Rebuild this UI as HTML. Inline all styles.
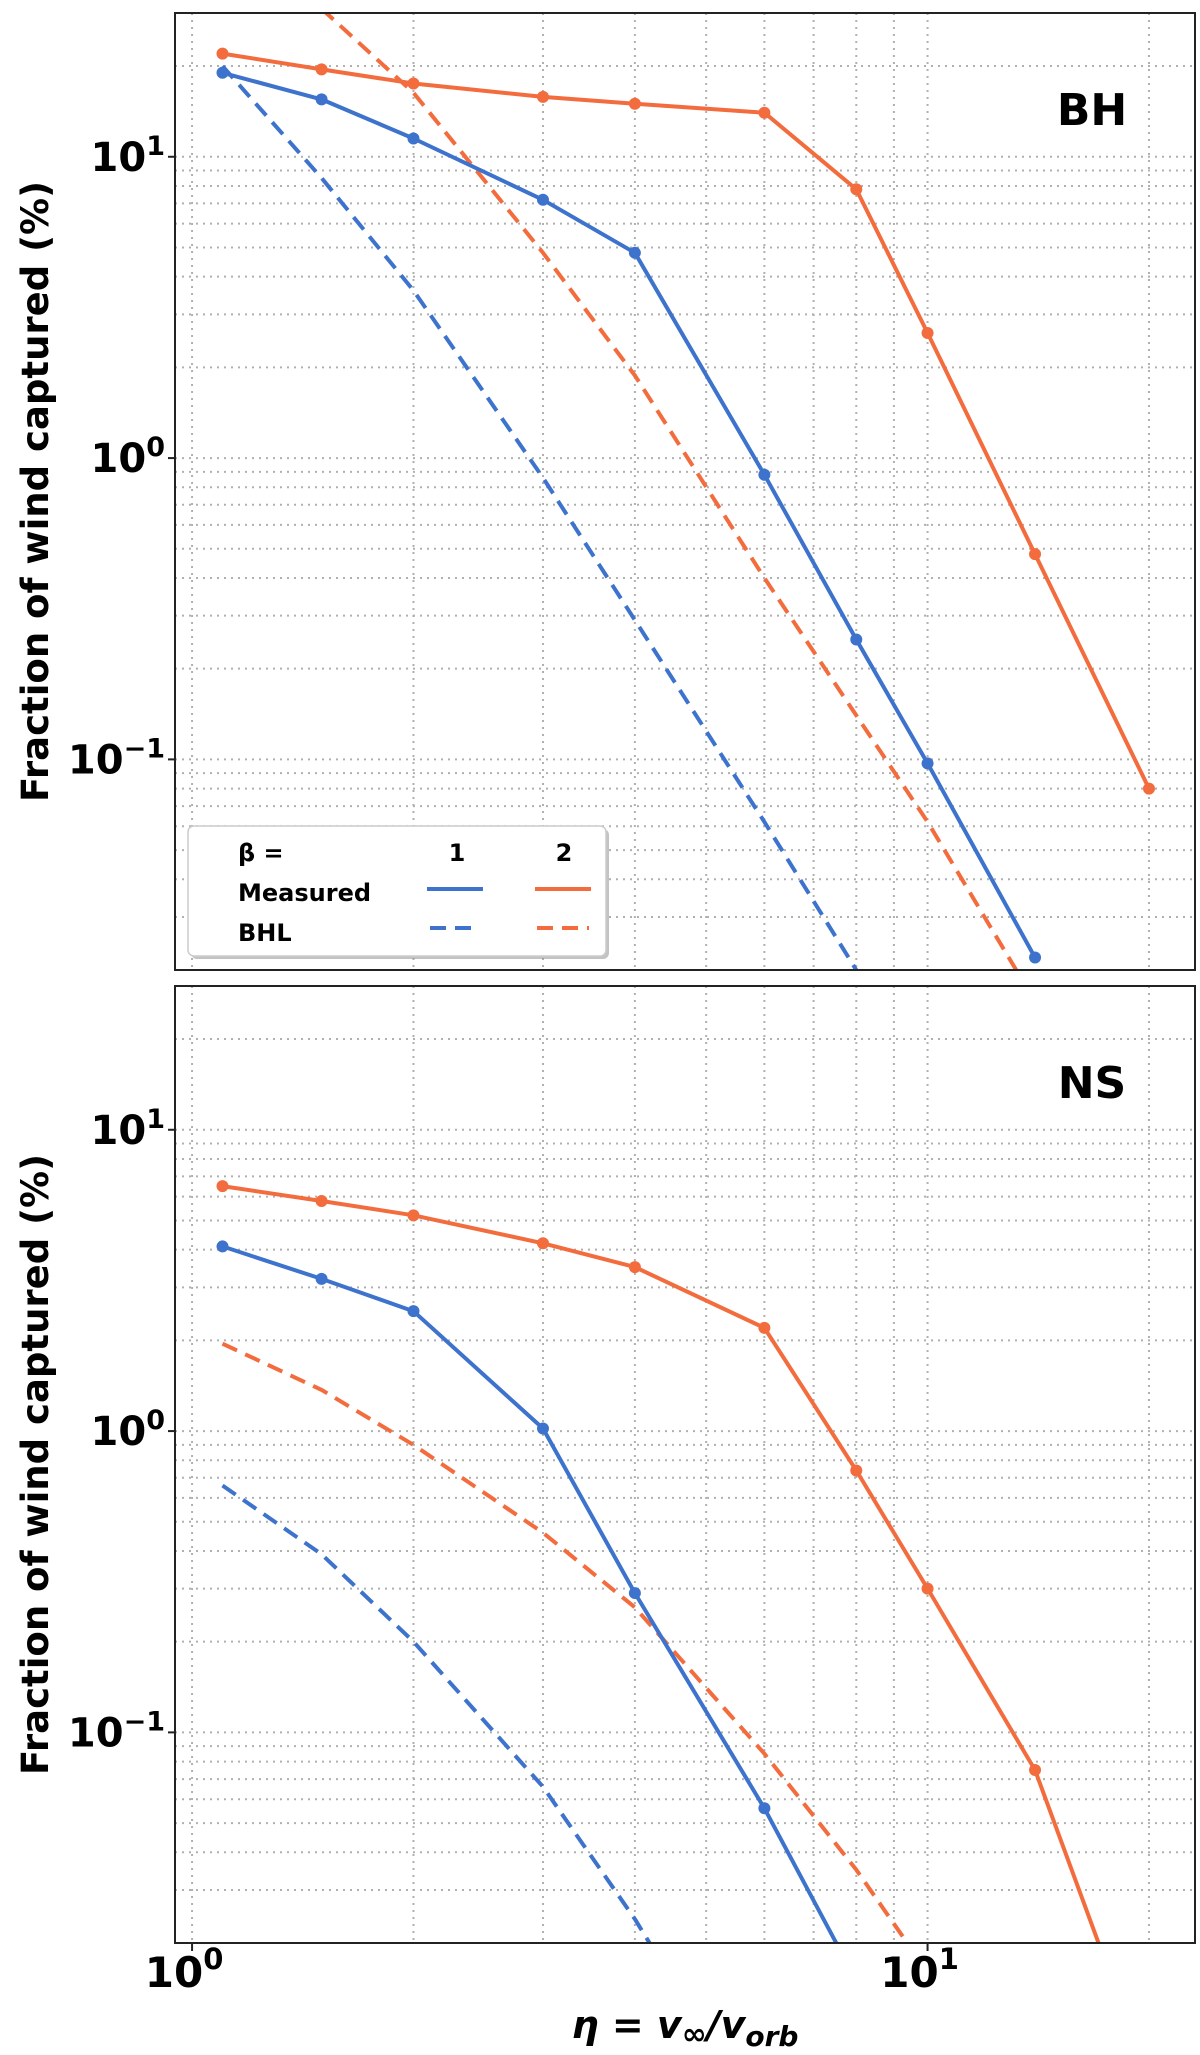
<!DOCTYPE html>
<html><head><meta charset="utf-8">
<style>
html,body{margin:0;padding:0;background:#fff;}
svg{display:block;font-family:"DejaVu Sans","Liberation Sans",sans-serif;}
</style></head>
<body>
<svg id="fig" width="1200" height="2055" viewBox="0 0 1200 2055" xmlns="http://www.w3.org/2000/svg"></svg>
<script>
const etaBH = [1.1,1.5,2,3,4,6,8,10,14,20];
const bhMeas1 = [19,15.5,11.5,7.2,4.8,0.88,0.25,0.097,0.022];
const bhMeas2 = [22,19.5,17.5,15.8,15,14,7.8,2.6,0.48,0.08];
const bhBhlEta1 = [1.1,1.5,2,3,4,6,8];
const bhBhl1 = [20,8.5,3.6,0.86,0.29,0.062,0.02];
const bhBhlEta2 = [1.5,2,3,4,6,8,10,13.2];
const bhBhl2 = [31,16.3,4.8,1.88,0.40,0.14,0.062,0.02];
const nsMeas1 = [4.1,3.2,2.5,1.02,0.29,0.056,0.015];
const nsMeas2 = [6.5,5.8,5.2,4.2,3.5,2.2,0.74,0.30,0.075,0.007];
const nsBhlEta1 = [1.1,1.5,2,3,4,4.3];
const nsBhl1 = [0.66,0.39,0.2,0.066,0.024,0.018];
const nsBhlEta2 = [1.1,1.5,2,3,4,6,8,10];
const nsBhl2 = [1.95,1.37,0.9,0.46,0.26,0.085,0.035,0.016];
const yTickLabels = ['10','10','10'];
const yTickExp = ['1','0','−1'];
const xTickExp = ['0','1'];

const NS='http://www.w3.org/2000/svg';
const svg=document.getElementById('fig');
const X0=175,X1=1195,XMIN=0.948,XMAX=23.1;
const YMIN=0.02,YMAX=30;
function xs(v){return X0+(Math.log10(v)-Math.log10(XMIN))/(Math.log10(XMAX)-Math.log10(XMIN))*(X1-X0);}
function mk(t,a,p){const e=document.createElementNS(NS,t);for(const k in a)e.setAttribute(k,a[k]);(p||svg).appendChild(e);return e;}
const BLUE='#3d73cc',ORANGE='#f36c3d';

function panel(top,bot,name,label,series){
  const ys=v=>bot-(Math.log10(v)-Math.log10(YMIN))/(Math.log10(YMAX)-Math.log10(YMIN))*(bot-top);
  const g=mk('g',{});
  
  
  const cid='clip'+name;
  const cp=mk('clipPath',{id:cid},g);mk('rect',{x:X0,y:top,width:X1-X0,height:bot-top},cp);
  const grid=mk('g',{stroke:'#b0b0b0','stroke-width':2,'stroke-dasharray':'2,5','clip-path':'url(#'+cid+')'},g);
  
  
  for(let d=-2;d<=1;d++)for(let m=1;m<10;m++){const v=m*Math.pow(10,d);if(v<YMIN||v>YMAX)continue;const y=ys(v);mk('line',{x1:X0,x2:X1,y1:y,y2:y},grid);}
  for(let d=-1;d<=1;d++)for(let m=1;m<10;m++){const v=m*Math.pow(10,d);if(v<XMIN||v>XMAX)continue;const x=xs(v);mk('line',{x1:x,x2:x,y1:top,y2:bot},grid);}
  const plot=mk('g',{'clip-path':'url(#'+cid+')'},g);
  series.forEach(s=>{
    const pts=s.x.slice(0,s.y.length).map((xv,i)=>xs(xv).toFixed(1)+','+ys(s.y[i]).toFixed(1)).join(' ');
    const pl=mk('polyline',{points:pts,fill:'none',stroke:s.c,'stroke-width':4,'stroke-linejoin':'round','stroke-dasharray':s.dash?'16,9':'none'},plot);
    
    
    if(!s.dash)s.y.forEach((yv,i)=>{const c=mk('circle',{cx:xs(s.x[i]),cy:ys(yv),r:6,fill:s.c},plot);
      
      });
  });
  const fr=mk('rect',{x:X0,y:top,width:X1-X0,height:bot-top,fill:'none',stroke:'#222','stroke-width':2},g);
  
  
  [10,1,0.1].forEach((v,i)=>{
    const t=mk('text',{x:165,y:ys(v)+14,'text-anchor':'end','font-size':40,'font-weight':'bold'},g);
    
    
    t.textContent=yTickLabels[i];
    const s=mk('tspan',{dy:-16,'font-size':27},t);s.textContent=yTickExp[i];
    mk('line',{x1:X0-7,x2:X0,y1:ys(v),y2:ys(v),stroke:'#222','stroke-width':2},g);
  });
  const lt=mk('text',{x:1092,y:top+112,'text-anchor':'middle','font-size':44,'font-weight':'bold'},g);
  
  
  lt.textContent=label;
  const yl=mk('text',{x:0,y:0,transform:'translate(48,'+((top+bot)/2)+') rotate(-90)','text-anchor':'middle','font-size':37,'font-weight':'bold'},g);
  
  
  yl.textContent='Fraction of wind captured (%)';
}

panel(13,970,'bh','BH',[
  {x:bhBhlEta1,y:bhBhl1,c:BLUE,dash:true,n:'bh-bhl-beta1'},
  {x:bhBhlEta2,y:bhBhl2,c:ORANGE,dash:true,n:'bh-bhl-beta2'},
  {x:etaBH,y:bhMeas1,c:BLUE,n:'bh-measured-beta1'},
  {x:etaBH,y:bhMeas2,c:ORANGE,n:'bh-measured-beta2'}]);
panel(986,1943,'ns','NS',[
  {x:nsBhlEta1,y:nsBhl1,c:BLUE,dash:true,n:'ns-bhl-beta1'},
  {x:nsBhlEta2,y:nsBhl2,c:ORANGE,dash:true,n:'ns-bhl-beta2'},
  {x:etaBH,y:nsMeas1,c:BLUE,n:'ns-measured-beta1'},
  {x:etaBH,y:nsMeas2,c:ORANGE,n:'ns-measured-beta2'}]);

[1,10].forEach((v,i)=>{
  mk('line',{x1:xs(v),x2:xs(v),y1:1943,y2:1951,stroke:'#222','stroke-width':2});
  const t=mk('text',{x:xs(v)-8,y:1987,'text-anchor':'middle','font-size':42,'font-weight':'bold'});
  
  
  t.textContent='10';
  const s=mk('tspan',{dy:-18,'font-size':29},t);s.textContent=xTickExp[i];
});
const xl=mk('text',{x:685,y:2038,'text-anchor':'middle','font-size':38,'font-weight':'bold','font-style':'italic'});


xl.innerHTML='η = v<tspan font-size="30" dy="6">∞</tspan><tspan dy="-6">/v</tspan><tspan font-size="28" dy="8">orb</tspan>';

// legend
const lg=mk('g',{});


mk('rect',{x:191,y:829,width:418,height:130,rx:6,fill:'#888',opacity:0.5},lg);
mk('rect',{x:188,y:826,width:418,height:130,rx:6,fill:'#fff',stroke:'#ccc','stroke-width':1.5},lg);
function lt(x,y,s,anchor,it){const t=mk('text',{x:x,y:y,'font-size':24,'font-weight':'bold','text-anchor':anchor||'start','font-style':it?'italic':'normal'},lg);
  
  
  t.textContent=s;return t;}
lt(238,861,'β =',null,false);
lt(457,861,'1','middle');lt(564,861,'2','middle');
lt(238,901,'Measured');lt(238,941,'BHL');
[[427,483,889,BLUE,false],[535,591,889,ORANGE,false],[430,474,928,BLUE,true],[537,589,928,ORANGE,true]].forEach(a=>{
  const l=mk('line',{x1:a[0],x2:a[1],y1:a[2],y2:a[2],stroke:a[3],'stroke-width':4,'stroke-dasharray':a[4]?'16,9':'none'},lg);
  
  
});
</script>
</body></html>
